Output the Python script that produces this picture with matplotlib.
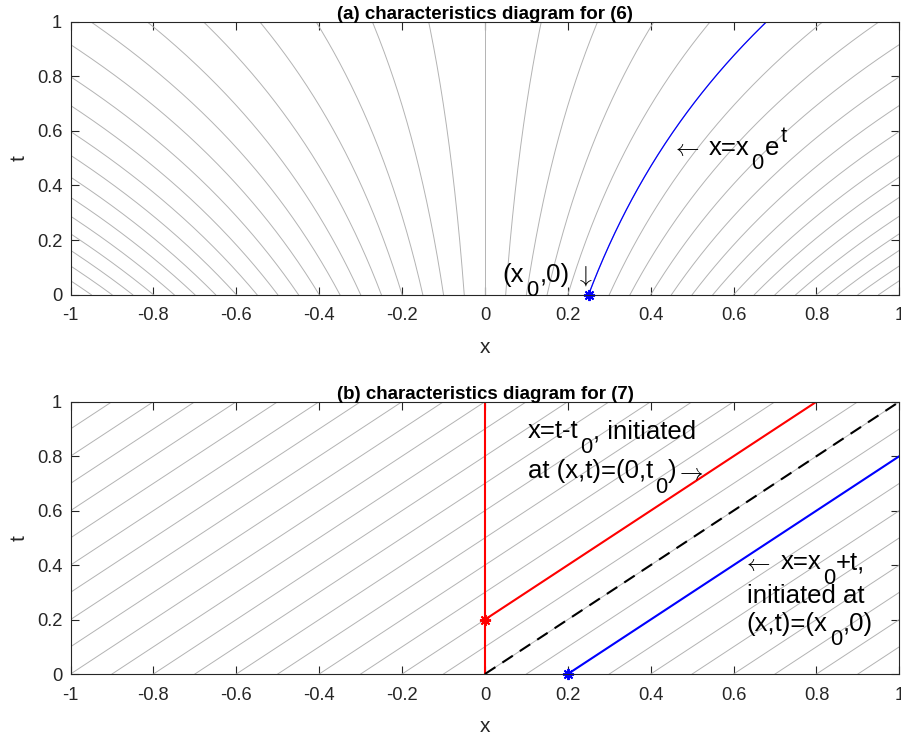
import matplotlib
matplotlib.use('Agg')
import matplotlib.pyplot as plt
import numpy as np

plt.rcParams['font.family'] = ['Liberation Sans', 'DejaVu Sans']
plt.rcParams['mathtext.fontset'] = 'cm'

# starting points of the gray characteristics
x0_top = [-1.0, -0.95, -0.9, -0.85, -0.8, -0.75, -0.7, -0.65, -0.6, -0.55,
          -0.5, -0.45, -0.4, -0.35, -0.3, -0.25, -0.2, -0.15, -0.1, -0.05,
          0.0, 0.05, 0.1, 0.15, 0.2, 0.25, 0.3, 0.35, 0.4, 0.45,
          0.5, 0.55, 0.6, 0.65, 0.7, 0.75, 0.8, 0.85, 0.9, 0.95, 1.0]
x0_bot = [-1.9, -1.8, -1.7, -1.6, -1.5, -1.4, -1.3, -1.2, -1.1, -1.0,
          -0.9, -0.8, -0.7, -0.6, -0.5, -0.4, -0.3, -0.2, -0.1, 0.0,
          0.1, 0.2, 0.3, 0.4, 0.5, 0.6, 0.7, 0.8, 0.9]

# highlighted characteristics
x0_blue_top = 0.25
x0_blue_bot = 0.2
t0_red = 0.2

xticks = [-1, -0.8, -0.6, -0.4, -0.2, 0, 0.2, 0.4, 0.6, 0.8, 1]
yticks = [0, 0.2, 0.4, 0.6, 0.8, 1]
xticklabels = ['-1', '-0.8', '-0.6', '-0.4', '-0.2', '0', '0.2', '0.4', '0.6', '0.8', '1']
yticklabels = ['0', '0.2', '0.4', '0.6', '0.8', '1']

t = np.linspace(0, 1, 200)
gray = '#b3b3b3'
axcol = '#262626'
FS = 18.5
AFS = 17

fig = plt.figure(figsize=(9.01, 7.38), dpi=100)
ax1 = fig.add_axes([0.0783, 0.6007, 0.9199, 0.3699])
ax2 = fig.add_axes([0.0783, 0.0867, 0.9199, 0.3690])


def style(ax, title):
    ax.set_xlim(-1, 1)
    ax.set_ylim(0, 1)
    ax.set_xticks(xticks)
    ax.set_xticklabels(xticklabels)
    ax.set_yticks(yticks)
    ax.set_yticklabels(yticklabels)
    ax.tick_params(direction='in', length=6, width=0.8, top=True, right=True,
                   labelsize=13.2, colors=axcol)
    ax.tick_params(axis='x', pad=9)
    ax.tick_params(axis='y', pad=6)
    for s in ax.spines.values():
        s.set_color(axcol)
        s.set_linewidth(0.8)
    ax.set_xlabel('x', fontsize=15, color=axcol, labelpad=10)
    ax.set_ylabel('t', fontsize=15, color=axcol, labelpad=6)
    ax.set_title(title, fontsize=13.5, fontweight='bold', pad=2)


def rich(ax, x, y, pieces, lead=None):
    # TeX-like label built from pieces (kind, text), kind n / sub / sup / arrow
    first = ax.text(x, y, pieces[0][1], fontsize=FS, ha='left', va='baseline')
    if lead:
        ax.annotate(lead, xy=(0, 0.45), xycoords=first, xytext=(-7, 0),
                    textcoords='offset points', fontsize=AFS, ha='right', va='center')
    base = first
    prev = first
    for kind, s in pieces[1:]:
        if kind == 'arrow':
            prev = ax.annotate(s, xy=(1, 0.45), xycoords=(prev, base), xytext=(-1, 0),
                               textcoords='offset points', fontsize=AFS,
                               ha='left', va='center')
            continue
        if kind == 'sub':
            size, dx, dy = FS * 0.85, 1.5, -10.5
        elif kind == 'sup':
            size, dx, dy = FS * 0.85, 1.0, 9.5
        else:
            size, dx, dy = FS, 0.5, 0
        a = ax.annotate(s, xy=(1, 0), xycoords=(prev, base), xytext=(dx, dy),
                        textcoords='offset points', fontsize=size,
                        ha='left', va='bottom')
        prev = a
        if kind == 'n':
            base = a


# (a) x = x0 e^t
for x0 in x0_top:
    ax1.plot(x0 * np.exp(t), t, color=gray, lw=0.7)
ax1.plot(x0_blue_top * np.exp(t), t, color='blue', lw=0.9)
ax1.plot([x0_blue_top], [0], color='blue', marker=(8, 2, 0), ms=8, mew=1.4, clip_on=False)
rich(ax1, 0.043, 0.047, [('n', '(x'), ('sub', '0'), ('n', ',0)'), ('arrow', r'$\ \downarrow$')])
rich(ax1, 0.540, 0.512, [('n', 'x=x'), ('sub', '0'), ('n', 'e'), ('sup', 't')],
     lead=r'$\leftarrow$')
style(ax1, '(a) characteristics diagram for (6)')

# (b) x = x0 + t
for x0 in x0_bot:
    ax2.plot(x0 + t, t, color=gray, lw=0.7)
ax2.plot([0, 0], [0, 1], color='red', lw=1.5)
ax2.plot([0, 1 - t0_red], [t0_red, 1], color='red', lw=1.5)
ax2.plot([0], [t0_red], color='red', marker=(8, 2, 0), ms=8, mew=1.4)
ax2.plot([0, 1], [0, 1], color='black', lw=1.5, dashes=(6, 4))
ax2.plot([x0_blue_bot, 1], [0, 1 - x0_blue_bot], color='blue', lw=1.5)
ax2.plot([x0_blue_bot], [0], color='blue', marker=(8, 2, 0), ms=8, mew=1.4, clip_on=False)
rich(ax2, 0.103, 0.865, [('n', 'x=t-t'), ('sub', '0'), ('n', ', initiated')])
rich(ax2, 0.103, 0.718, [('n', 'at (x,t)=(0,t'), ('sub', '0'), ('n', ')'),
                         ('arrow', r'$\rightarrow$')])
rich(ax2, 0.713, 0.384, [('n', 'x=x'), ('sub', '0'), ('n', '+t,')], lead=r'$\leftarrow$')
rich(ax2, 0.632, 0.259, [('n', 'initiated at')])
rich(ax2, 0.632, 0.159, [('n', '(x,t)=(x'), ('sub', '0'), ('n', ',0)')])
style(ax2, '(b) characteristics diagram for (7)')

fig.savefig('out.png', dpi=100)
